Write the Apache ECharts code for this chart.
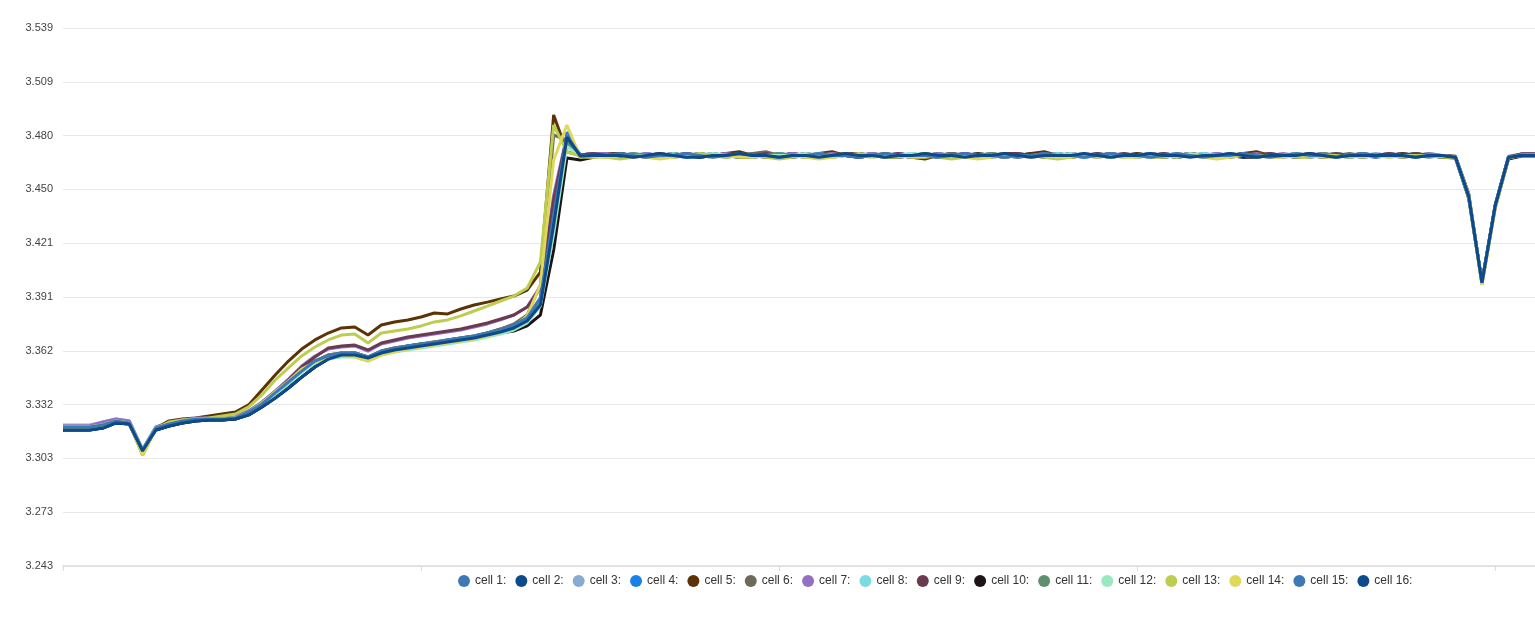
<!DOCTYPE html>
<html><head><meta charset="utf-8">
<script src="https://cdn.jsdelivr.net/npm/echarts@6/dist/echarts.min.js"></script>
<style>html,body{margin:0;padding:0;background:#fff}#chart{width:1535px;height:628px}</style>
</head><body><div id="chart"></div>
<script>
const categories = Array.from({length: 112}, (_, i) => String(i + 1));
const yTickValues = [3.2434, 3.27296, 3.30252, 3.33208, 3.36164, 3.3912, 3.42076, 3.45032, 3.47988, 3.50944, 3.5390];
const yTickLabels = ['3.243','3.273','3.303','3.332','3.362','3.391','3.421','3.450','3.480','3.509','3.539'];
const seriesNames = ['cell 1','cell 2','cell 3','cell 4','cell 5','cell 6','cell 7','cell 8','cell 9','cell 10','cell 11','cell 12','cell 13','cell 14','cell 15','cell 16'];
const seriesColors = ['#3d7ab5','#0d4a8c','#8aaad0','#1a80e8','#5c3306','#6e6a55','#9670c0','#78dce0','#6a3a50','#1e1418','#5e9070','#98e8c0','#bccd50','#e0d858','#3d7ab5','#0d4a8c'];

const cell1 = [3.3198,3.3198,3.3198,3.3209,3.3231,3.3220,3.3071,3.3192,3.3214,3.3231,
3.3242,3.3242,3.3242,3.3247,3.3280,3.3324,3.3385,3.3445,3.3511,3.3560,
3.3593,3.3604,3.3604,3.3582,3.3615,3.3632,3.3643,3.3654,3.3665,3.3676,
3.3687,3.3698,3.3714,3.3736,3.3758,3.3802,3.3906,3.4362,3.4785,3.4687,
3.469,3.470,3.469,3.469,3.468,3.469,3.470,3.469,3.469,3.469,
3.470,3.469,3.468,3.469,3.469,3.470,3.469,3.469,3.468,3.469,
3.469,3.470,3.469,3.468,3.469,3.469,3.469,3.470,3.469,3.468,
3.469,3.469,3.470,3.469,3.469,3.468,3.469,3.469,3.470,3.469,
3.469,3.468,3.469,3.470,3.469,3.469,3.469,3.468,3.469,3.470,
3.469,3.469,3.468,3.469,3.470,3.469,3.469,3.469,3.470,3.469,
3.469,3.469,3.470,3.469,3.469,3.4681,3.4470,3.3992,3.4415,3.4680,3.4692,3.4695];

const cell2 = [3.3181,3.3181,3.3181,3.3192,3.3220,3.3214,3.3066,3.3181,3.3203,3.3220,
3.3231,3.3236,3.3236,3.3242,3.3264,3.3308,3.3357,3.3412,3.3472,3.3527,
3.3571,3.3593,3.3593,3.3577,3.3604,3.3621,3.3632,3.3643,3.3654,3.3665,
3.3676,3.3687,3.3703,3.3720,3.3742,3.3780,3.3868,3.4307,3.4774,3.4681,
3.469,3.469,3.470,3.469,3.469,3.469,3.468,3.469,3.470,3.469,
3.469,3.468,3.469,3.469,3.470,3.469,3.469,3.468,3.469,3.469,
3.470,3.469,3.469,3.469,3.468,3.469,3.470,3.469,3.469,3.469,
3.468,3.469,3.469,3.470,3.469,3.469,3.469,3.468,3.469,3.470,
3.469,3.469,3.469,3.468,3.469,3.470,3.469,3.469,3.468,3.469,
3.470,3.469,3.469,3.469,3.468,3.469,3.470,3.469,3.469,3.468,
3.469,3.470,3.469,3.469,3.468,3.4678,3.4460,3.3989,3.4410,3.4676,3.4690,3.4690];

const cell3 = [3.3209,3.3209,3.3209,3.3225,3.3242,3.3231,3.3077,3.3198,3.3220,3.3231,
3.3242,3.3242,3.3247,3.3247,3.3280,3.3324,3.3385,3.3445,3.3511,3.3560,
3.3593,3.3604,3.3604,3.3582,3.3615,3.3632,3.3643,3.3654,3.3665,3.3676,
3.3687,3.3698,3.3714,3.3736,3.3758,3.3802,3.3906,3.4340,3.4790,3.4692,
3.470,3.469,3.469,3.470,3.469,3.468,3.469,3.470,3.469,3.470,
3.469,3.470,3.469,3.468,3.470,3.469,3.470,3.469,3.469,3.470,
3.469,3.469,3.470,3.469,3.470,3.469,3.468,3.469,3.470,3.469,
3.470,3.469,3.469,3.469,3.470,3.469,3.470,3.469,3.469,3.469,
3.470,3.469,3.470,3.469,3.469,3.470,3.469,3.469,3.470,3.469,
3.469,3.470,3.469,3.470,3.469,3.469,3.470,3.469,3.469,3.470,
3.469,3.470,3.469,3.470,3.469,3.4685,3.4475,3.3995,3.4420,3.4685,3.4698,3.4700];

const cell4 = [3.3198,3.3198,3.3198,3.3209,3.3231,3.3220,3.3071,3.3192,3.3214,3.3231,
3.3242,3.3242,3.3242,3.3247,3.3280,3.3324,3.3379,3.3445,3.3511,3.3555,
3.3588,3.3599,3.3604,3.3582,3.3610,3.3626,3.3643,3.3654,3.3659,3.3670,
3.3681,3.3692,3.3714,3.3731,3.3753,3.3797,3.3890,3.4280,3.4818,3.4692,
3.469,3.468,3.469,3.469,3.470,3.469,3.469,3.468,3.469,3.469,
3.469,3.469,3.470,3.469,3.468,3.469,3.469,3.469,3.470,3.469,
3.468,3.469,3.469,3.470,3.469,3.469,3.468,3.469,3.469,3.470,
3.469,3.469,3.468,3.469,3.469,3.470,3.469,3.469,3.469,3.468,
3.469,3.470,3.469,3.469,3.468,3.469,3.469,3.470,3.469,3.469,
3.468,3.469,3.469,3.470,3.469,3.469,3.469,3.468,3.469,3.469,
3.470,3.469,3.469,3.469,3.469,3.4681,3.4465,3.3990,3.4412,3.4680,3.4692,3.4692];

const cell5 = [3.3198,3.3198,3.3198,3.3209,3.3231,3.3220,3.3044,3.3192,3.3231,3.3242,
3.3247,3.3258,3.3269,3.3280,3.3319,3.3401,3.3483,3.3560,3.3626,3.3676,
3.3714,3.3742,3.3747,3.3703,3.3758,3.3775,3.3786,3.3802,3.3824,3.3819,
3.3846,3.3868,3.3884,3.3901,3.3917,3.3950,3.4049,3.4912,3.4709,3.4692,
3.469,3.470,3.470,3.469,3.468,3.469,3.470,3.469,3.468,3.469,
3.470,3.471,3.469,3.468,3.469,3.470,3.469,3.470,3.471,3.469,
3.468,3.469,3.470,3.469,3.468,3.467,3.469,3.470,3.469,3.470,
3.469,3.468,3.469,3.470,3.471,3.469,3.468,3.469,3.469,3.470,
3.469,3.470,3.469,3.468,3.469,3.470,3.469,3.468,3.469,3.470,
3.471,3.469,3.469,3.468,3.469,3.470,3.469,3.469,3.470,3.469,
3.469,3.470,3.469,3.469,3.469,3.4685,3.4480,3.3985,3.4405,3.4676,3.4698,3.4700];

const cell6 = [3.3198,3.3198,3.3198,3.3209,3.3231,3.3220,3.3060,3.3192,3.3220,3.3236,
3.3242,3.3247,3.3247,3.3253,3.3286,3.3330,3.3390,3.3450,3.3516,3.3560,
3.3593,3.3604,3.3604,3.3582,3.3615,3.3632,3.3643,3.3654,3.3665,3.3676,
3.3687,3.3698,3.3714,3.3736,3.3764,3.3813,3.3978,3.4802,3.4774,3.4692,
3.470,3.469,3.469,3.468,3.469,3.470,3.469,3.469,3.469,3.470,
3.469,3.469,3.470,3.471,3.469,3.469,3.468,3.469,3.470,3.469,
3.469,3.470,3.469,3.469,3.468,3.469,3.469,3.470,3.469,3.469,
3.470,3.469,3.468,3.469,3.469,3.470,3.469,3.469,3.468,3.469,
3.469,3.469,3.470,3.469,3.469,3.469,3.470,3.469,3.469,3.468,
3.469,3.470,3.469,3.469,3.469,3.468,3.469,3.470,3.469,3.469,
3.469,3.469,3.470,3.469,3.469,3.4681,3.4468,3.3988,3.4412,3.4681,3.4695,3.4695];

const cell7 = [3.3203,3.3203,3.3203,3.3225,3.3242,3.3231,3.3071,3.3198,3.3220,3.3236,
3.3247,3.3247,3.3247,3.3253,3.3286,3.3335,3.3396,3.3461,3.3533,3.3588,
3.3626,3.3637,3.3643,3.3615,3.3654,3.3670,3.3687,3.3698,3.3709,3.3720,
3.3731,3.3747,3.3764,3.3786,3.3813,3.3857,3.3972,3.4472,3.4802,3.4692,
3.470,3.470,3.469,3.469,3.470,3.469,3.469,3.470,3.469,3.469,
3.470,3.469,3.469,3.470,3.469,3.470,3.469,3.469,3.470,3.469,
3.469,3.470,3.469,3.470,3.469,3.469,3.470,3.469,3.470,3.469,
3.469,3.470,3.469,3.469,3.470,3.469,3.470,3.469,3.469,3.470,
3.469,3.469,3.470,3.469,3.470,3.469,3.469,3.470,3.469,3.469,
3.470,3.469,3.470,3.469,3.469,3.470,3.469,3.469,3.470,3.469,
3.470,3.469,3.469,3.470,3.469,3.4683,3.4470,3.3992,3.4418,3.4683,3.4698,3.4700];

const cell8 = [3.3198,3.3198,3.3198,3.3209,3.3231,3.3220,3.3071,3.3192,3.3214,3.3231,
3.3242,3.3242,3.3242,3.3247,3.3275,3.3319,3.3374,3.3434,3.3500,3.3549,
3.3577,3.3588,3.3588,3.3566,3.3599,3.3615,3.3626,3.3637,3.3648,3.3659,
3.3670,3.3681,3.3698,3.3714,3.3736,3.3775,3.3868,3.4280,3.4747,3.4687,
3.469,3.469,3.468,3.469,3.469,3.469,3.470,3.469,3.468,3.469,
3.469,3.468,3.469,3.469,3.469,3.468,3.469,3.470,3.469,3.469,
3.468,3.469,3.469,3.469,3.470,3.469,3.468,3.469,3.469,3.469,
3.469,3.468,3.469,3.469,3.469,3.470,3.469,3.468,3.469,3.469,
3.468,3.469,3.469,3.469,3.468,3.469,3.470,3.469,3.469,3.468,
3.469,3.469,3.469,3.468,3.469,3.469,3.470,3.469,3.468,3.469,
3.469,3.469,3.468,3.469,3.469,3.4679,3.4462,3.3990,3.4410,3.4678,3.4690,3.4690];

const cell9 = [3.3198,3.3198,3.3198,3.3209,3.3231,3.3220,3.3066,3.3192,3.3214,3.3231,
3.3242,3.3242,3.3242,3.3247,3.3280,3.3330,3.3390,3.3456,3.3527,3.3582,
3.3632,3.3643,3.3648,3.3621,3.3659,3.3676,3.3692,3.3703,3.3714,3.3725,
3.3736,3.3753,3.3769,3.3791,3.3813,3.3857,3.3961,3.4445,3.4796,3.4692,
3.470,3.469,3.470,3.469,3.469,3.470,3.469,3.470,3.469,3.469,
3.469,3.470,3.469,3.470,3.469,3.469,3.470,3.469,3.469,3.470,
3.470,3.469,3.469,3.470,3.469,3.470,3.469,3.469,3.470,3.469,
3.469,3.470,3.470,3.469,3.469,3.469,3.470,3.469,3.470,3.469,
3.470,3.469,3.469,3.470,3.469,3.470,3.469,3.469,3.469,3.470,
3.469,3.470,3.469,3.469,3.470,3.469,3.470,3.469,3.469,3.469,
3.470,3.469,3.470,3.469,3.469,3.4683,3.4472,3.3990,3.4416,3.4682,3.4698,3.4698];

const cell10 = [3.3181,3.3181,3.3181,3.3192,3.3220,3.3214,3.3066,3.3181,3.3203,3.3220,
3.3231,3.3236,3.3236,3.3242,3.3264,3.3308,3.3357,3.3412,3.3472,3.3527,
3.3571,3.3593,3.3593,3.3577,3.3604,3.3621,3.3632,3.3643,3.3654,3.3665,
3.3676,3.3687,3.3703,3.3714,3.3725,3.3753,3.3813,3.4170,3.4676,3.4665,
3.468,3.469,3.468,3.469,3.469,3.468,3.469,3.469,3.468,3.469,
3.469,3.468,3.468,3.469,3.469,3.468,3.469,3.468,3.469,3.469,
3.468,3.469,3.468,3.468,3.469,3.469,3.468,3.469,3.468,3.469,
3.469,3.468,3.469,3.469,3.468,3.469,3.468,3.469,3.469,3.468,
3.469,3.469,3.468,3.469,3.468,3.469,3.469,3.468,3.469,3.468,
3.468,3.469,3.469,3.468,3.469,3.468,3.469,3.469,3.468,3.469,
3.469,3.468,3.469,3.469,3.468,3.4676,3.4455,3.3992,3.4405,3.4670,3.4687,3.4687];

const cell11 = [3.3198,3.3198,3.3198,3.3209,3.3231,3.3220,3.3071,3.3192,3.3214,3.3231,
3.3242,3.3242,3.3242,3.3247,3.3275,3.3319,3.3379,3.3440,3.3505,3.3555,
3.3582,3.3593,3.3593,3.3571,3.3604,3.3621,3.3632,3.3643,3.3654,3.3665,
3.3676,3.3687,3.3703,3.3720,3.3742,3.3780,3.3879,3.4300,3.4760,3.4687,
3.469,3.469,3.469,3.470,3.469,3.468,3.469,3.469,3.470,3.469,
3.468,3.469,3.469,3.469,3.470,3.469,3.468,3.469,3.469,3.470,
3.469,3.469,3.468,3.469,3.469,3.470,3.469,3.469,3.468,3.469,
3.470,3.469,3.469,3.468,3.469,3.469,3.469,3.470,3.469,3.468,
3.469,3.469,3.470,3.469,3.468,3.469,3.469,3.469,3.470,3.469,
3.469,3.468,3.469,3.469,3.469,3.470,3.469,3.468,3.469,3.469,
3.469,3.469,3.469,3.468,3.469,3.4680,3.4465,3.3988,3.4410,3.4679,3.4692,3.4692];

const cell12 = [3.3198,3.3198,3.3198,3.3209,3.3231,3.3220,3.3071,3.3192,3.3214,3.3231,
3.3242,3.3242,3.3242,3.3247,3.3275,3.3319,3.3374,3.3434,3.3500,3.3549,
3.3571,3.3582,3.3582,3.3560,3.3593,3.3610,3.3621,3.3632,3.3643,3.3654,
3.3665,3.3676,3.3692,3.3709,3.3731,3.3770,3.3862,3.4260,3.4740,3.4681,
3.469,3.468,3.469,3.469,3.469,3.469,3.468,3.469,3.469,3.470,
3.469,3.469,3.468,3.469,3.469,3.469,3.470,3.469,3.468,3.469,
3.469,3.468,3.469,3.469,3.470,3.469,3.469,3.468,3.469,3.469,
3.469,3.469,3.469,3.468,3.469,3.469,3.470,3.469,3.469,3.468,
3.469,3.469,3.468,3.469,3.469,3.470,3.469,3.468,3.469,3.469,
3.469,3.468,3.469,3.470,3.469,3.469,3.468,3.469,3.469,3.469,
3.468,3.469,3.469,3.469,3.469,3.4679,3.4460,3.3990,3.4408,3.4678,3.4690,3.4692];

const cell13 = [3.3198,3.3198,3.3198,3.3209,3.3231,3.3220,3.3044,3.3187,3.3225,3.3236,
3.3242,3.3247,3.3258,3.3269,3.3308,3.3374,3.3456,3.3522,3.3588,3.3637,
3.3676,3.3703,3.3709,3.3659,3.3714,3.3725,3.3736,3.3753,3.3775,3.3786,
3.3808,3.3835,3.3862,3.3890,3.3917,3.3961,3.4104,3.4857,3.4709,3.4687,
3.469,3.468,3.467,3.468,3.469,3.468,3.468,3.469,3.470,3.469,
3.468,3.469,3.469,3.468,3.467,3.468,3.469,3.469,3.468,3.469,
3.470,3.469,3.468,3.468,3.469,3.469,3.468,3.467,3.468,3.469,
3.469,3.468,3.469,3.469,3.468,3.467,3.468,3.469,3.469,3.468,
3.469,3.469,3.468,3.468,3.469,3.469,3.468,3.468,3.469,3.469,
3.468,3.469,3.469,3.468,3.468,3.469,3.469,3.468,3.469,3.469,
3.469,3.468,3.469,3.469,3.468,3.4678,3.4470,3.3980,3.4400,3.4675,3.4690,3.4692];

const cell14 = [3.3198,3.3198,3.3198,3.3209,3.3231,3.3220,3.3044,3.3192,3.3214,3.3231,
3.3242,3.3242,3.3242,3.3247,3.3280,3.3330,3.3390,3.3450,3.3516,3.3555,
3.3582,3.3588,3.3582,3.3560,3.3593,3.3610,3.3626,3.3637,3.3648,3.3659,
3.3670,3.3681,3.3698,3.3720,3.3747,3.3808,3.3978,3.4665,3.4857,3.4681,
3.468,3.468,3.469,3.469,3.468,3.467,3.468,3.469,3.469,3.468,
3.469,3.468,3.468,3.469,3.468,3.469,3.468,3.467,3.468,3.469,
3.469,3.468,3.469,3.469,3.468,3.468,3.469,3.469,3.468,3.467,
3.468,3.469,3.469,3.468,3.469,3.468,3.468,3.469,3.468,3.469,
3.468,3.468,3.469,3.469,3.468,3.469,3.468,3.467,3.468,3.469,
3.469,3.468,3.468,3.469,3.469,3.468,3.468,3.469,3.468,3.469,
3.468,3.469,3.468,3.469,3.469,3.4679,3.4475,3.3978,3.4402,3.4676,3.4692,3.4692];

const cell15 = [3.3198,3.3198,3.3198,3.3209,3.3231,3.3220,3.3071,3.3192,3.3214,3.3231,
3.3242,3.3242,3.3242,3.3247,3.3280,3.3324,3.3385,3.3445,3.3505,3.3560,
3.3588,3.3604,3.3604,3.3582,3.3615,3.3626,3.3643,3.3654,3.3659,3.3676,
3.3687,3.3698,3.3714,3.3731,3.3758,3.3797,3.3906,3.4362,3.4802,3.4687,
3.469,3.469,3.470,3.469,3.468,3.469,3.469,3.470,3.469,3.468,
3.469,3.470,3.469,3.469,3.468,3.469,3.469,3.470,3.469,3.469,
3.468,3.469,3.470,3.469,3.469,3.469,3.468,3.469,3.470,3.469,
3.469,3.468,3.469,3.469,3.470,3.469,3.469,3.468,3.469,3.470,
3.469,3.469,3.468,3.469,3.470,3.469,3.468,3.469,3.469,3.470,
3.469,3.468,3.469,3.470,3.469,3.469,3.468,3.469,3.470,3.469,
3.469,3.469,3.468,3.469,3.469,3.4681,3.4468,3.3992,3.4415,3.4680,3.4692,3.4692];

const cell16 = [3.3181,3.3181,3.3181,3.3192,3.3220,3.3214,3.3066,3.3181,3.3203,3.3220,
3.3231,3.3236,3.3236,3.3242,3.3264,3.3308,3.3357,3.3412,3.3472,3.3527,
3.3571,3.3593,3.3593,3.3577,3.3604,3.3621,3.3632,3.3643,3.3654,3.3665,
3.3676,3.3687,3.3703,3.3720,3.3742,3.3780,3.3868,3.4307,3.4790,3.4687,
3.469,3.469,3.469,3.468,3.469,3.470,3.469,3.468,3.468,3.469,
3.469,3.470,3.469,3.469,3.468,3.469,3.469,3.468,3.469,3.470,
3.469,3.469,3.468,3.469,3.469,3.470,3.469,3.469,3.468,3.469,
3.469,3.470,3.469,3.468,3.469,3.469,3.469,3.470,3.469,3.468,
3.469,3.469,3.470,3.469,3.469,3.468,3.469,3.469,3.470,3.469,
3.468,3.469,3.469,3.469,3.470,3.469,3.468,3.469,3.469,3.469,
3.469,3.469,3.468,3.469,3.469,3.4679,3.4465,3.3990,3.4412,3.4678,3.4690,3.4690];

const seriesData = [cell1,cell2,cell3,cell4,cell5,cell6,cell7,cell8,cell9,cell10,cell11,cell12,cell13,cell14,cell15,cell16];

const FONT = '"Liberation Sans", Arial, sans-serif';
const chart = echarts.init(document.getElementById('chart'), null, {renderer: 'canvas'});
chart.setOption({
  animation: false,
  textStyle: {fontFamily: FONT},
  grid: {left: 63, right: 0, top: 28, bottom: 62, containLabel: false},
  legend: {
    data: seriesNames,
    left: 453, top: 570,
    icon: 'circle', itemWidth: 12, itemHeight: 12, itemGap: 9,
    formatter: n => n + ':',
    textStyle: {fontSize: 12, color: '#333', fontFamily: FONT}
  },
  xAxis: {
    type: 'category', data: categories, boundaryGap: false,
    axisLine: {show: true, lineStyle: {color: '#e2e2e2', width: 2}},
    axisTick: {show: true, interval: 26, length: 5, lineStyle: {color: '#dcdcdc'}},
    axisLabel: {show: false},
    splitLine: {show: false}
  },
  yAxis: {
    type: 'value', min: 3.2434, max: 3.5390, scale: true,
    axisLine: {show: false},
    axisTick: {show: false, customValues: yTickValues},
    axisLabel: {
      customValues: yTickValues, fontSize: 11, color: '#444', margin: 10, fontFamily: FONT,
      formatter: v => { const k = yTickValues.findIndex(t => Math.abs(t - v) < 1e-6); return k >= 0 ? yTickLabels[k] : v.toFixed(3); }
    },
    splitLine: {show: true, lineStyle: {color: '#e8e8e8', width: 1}}
  },
  series: seriesNames.map((name, i) => ({
    name, type: 'line', data: seriesData[i],
    showSymbol: false, symbol: 'none',
    lineStyle: {width: 3, color: seriesColors[i]},
    itemStyle: {color: seriesColors[i]},
    emphasis: {disabled: true}
  }))
});
</script>
</body></html>
